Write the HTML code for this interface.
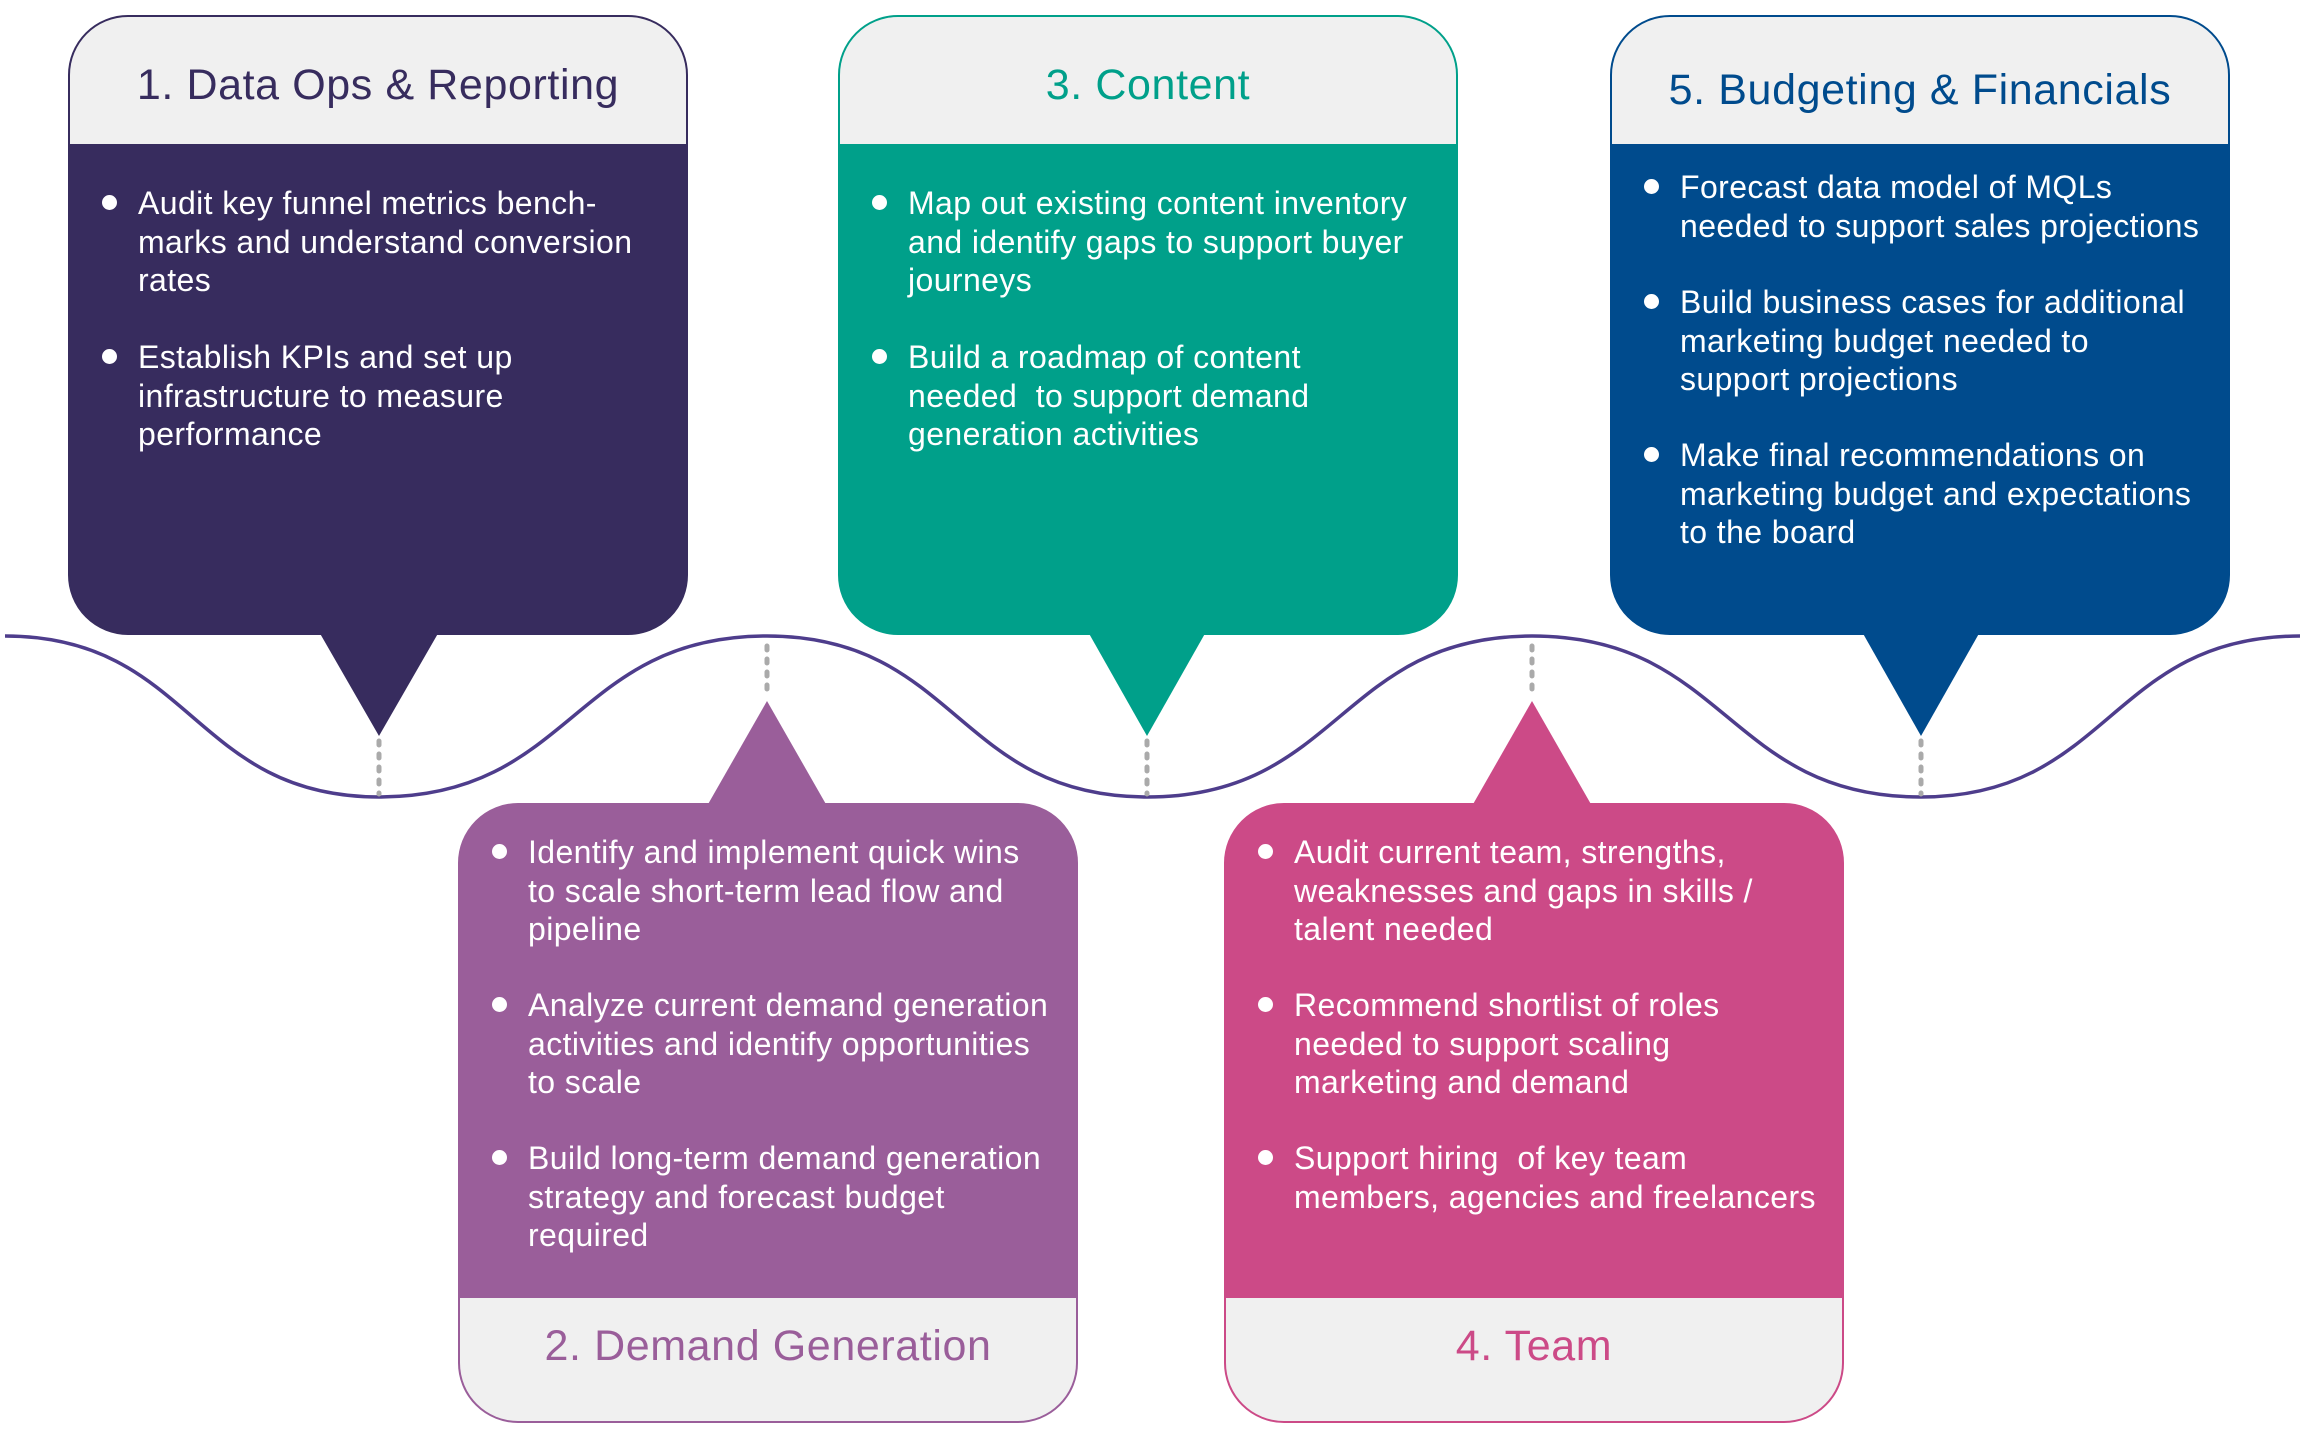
<!DOCTYPE html>
<html><head><meta charset="utf-8"><style>
body{margin:0;width:2311px;height:1440px;background:#fff;position:relative;overflow:hidden;font-family:"Liberation Sans",sans-serif}
.box{position:absolute;width:620px;height:620px;border-radius:60px;overflow:hidden;box-sizing:border-box;border:2px solid}
.hd{position:absolute;left:0;right:0;height:127px;background:#f0f0f0;font-size:43px;letter-spacing:0.6px;text-align:center;line-height:136px}
.t{position:absolute;color:#fff;font-size:32px;letter-spacing:0.4px;line-height:38.5px;white-space:nowrap}
.b{position:absolute;width:15px;height:15px;border-radius:50%;background:#fff}
svg{position:absolute;left:0;top:0}
</style></head><body>
<svg width="2311" height="1440">
<path d="M5,636 C192,636 192,797 379,797 C573,797 573,636 767,636 C957,636 957,797 1147,797 C1340,797 1340,636 1532,636 C1727,636 1727,797 1921,797 C2110,797 2110,636 2300,636" fill="none" stroke="#4e3d8c" stroke-width="3.5"/>
<g stroke="#aaa" stroke-width="5" stroke-dasharray="4,9" stroke-linecap="round">
<line x1="379" y1="741" x2="379" y2="794"/><line x1="1147" y1="741" x2="1147" y2="794"/><line x1="1921" y1="741" x2="1921" y2="794"/>
<line x1="767" y1="646" x2="767" y2="696"/><line x1="1532" y1="646" x2="1532" y2="696"/>
</g>
<polygon points="318,630 440,630 379,736" fill="#372c5e"/>
<polygon points="1087,630 1207,630 1147,736" fill="#00a08a"/>
<polygon points="1861,630 1981,630 1921,736" fill="#004b8d"/>
<polygon points="707,806 827,806 767,701" fill="#9a5e9a"/>
<polygon points="1472,806 1592,806 1532,701" fill="#cc4a87"/>
</svg>

<div class="box" style="left:68px;top:15px;background:#372c5e;border-color:#372c5e"><div class="hd" style="top:0;color:#372c5e">1. Data Ops &amp; Reporting</div></div>
<div class="box" style="left:838px;top:15px;background:#00a08a;border-color:#00a08a"><div class="hd" style="top:0;color:#00a08a">3. Content</div></div>
<div class="box" style="left:1610px;top:15px;background:#004b8d;border-color:#004b8d"><div class="hd" style="top:0;color:#004b8d;line-height:146px;height:127px">5. Budgeting &amp; Financials</div></div>
<div class="box" style="left:458px;top:803px;background:#9a5e9a;border-color:#9a5e9a"><div class="hd" style="top:493px;color:#9a5e9a;height:130px;line-height:96px">2. Demand Generation</div></div>
<div class="box" style="left:1224px;top:803px;background:#cc4a87;border-color:#cc4a87"><div class="hd" style="top:493px;color:#cc4a87;height:130px;line-height:96px">4. Team</div></div>

<div class="b" style="left:102px;top:195px"></div>
<div class="t" style="left:138px;top:184px">Audit key funnel metrics bench-<br>marks and understand conversion<br>rates</div>
<div class="b" style="left:102px;top:349px"></div>
<div class="t" style="left:138px;top:338px">Establish KPIs and set up<br>infrastructure to measure<br>performance</div>

<div class="b" style="left:872px;top:195px"></div>
<div class="t" style="left:908px;top:184px">Map out existing content inventory<br>and identify gaps to support buyer<br>journeys</div>
<div class="b" style="left:872px;top:349px"></div>
<div class="t" style="left:908px;top:338px">Build a roadmap of content<br>needed &nbsp;to support demand<br>generation activities</div>

<div class="b" style="left:1644px;top:179px"></div>
<div class="t" style="left:1680px;top:168px">Forecast data model of MQLs<br>needed to support sales projections</div>
<div class="b" style="left:1644px;top:294px"></div>
<div class="t" style="left:1680px;top:283px">Build business cases for additional<br>marketing budget needed to<br>support projections</div>
<div class="b" style="left:1644px;top:447px"></div>
<div class="t" style="left:1680px;top:436px">Make final recommendations on<br>marketing budget and expectations<br>to the board</div>

<div class="b" style="left:492px;top:844px"></div>
<div class="t" style="left:528px;top:833px">Identify and implement quick wins<br>to scale short-term lead flow and<br>pipeline</div>
<div class="b" style="left:492px;top:997px"></div>
<div class="t" style="left:528px;top:986px">Analyze current demand generation<br>activities and identify opportunities<br>to scale</div>
<div class="b" style="left:492px;top:1150px"></div>
<div class="t" style="left:528px;top:1139px">Build long-term demand generation<br>strategy and forecast budget<br>required</div>

<div class="b" style="left:1258px;top:844px"></div>
<div class="t" style="left:1294px;top:833px">Audit current team, strengths,<br>weaknesses and gaps in skills /<br>talent needed</div>
<div class="b" style="left:1258px;top:997px"></div>
<div class="t" style="left:1294px;top:986px">Recommend shortlist of roles<br>needed to support scaling<br>marketing and demand</div>
<div class="b" style="left:1258px;top:1150px"></div>
<div class="t" style="left:1294px;top:1139px">Support hiring &nbsp;of key team<br>members, agencies and freelancers</div>
</body></html>
